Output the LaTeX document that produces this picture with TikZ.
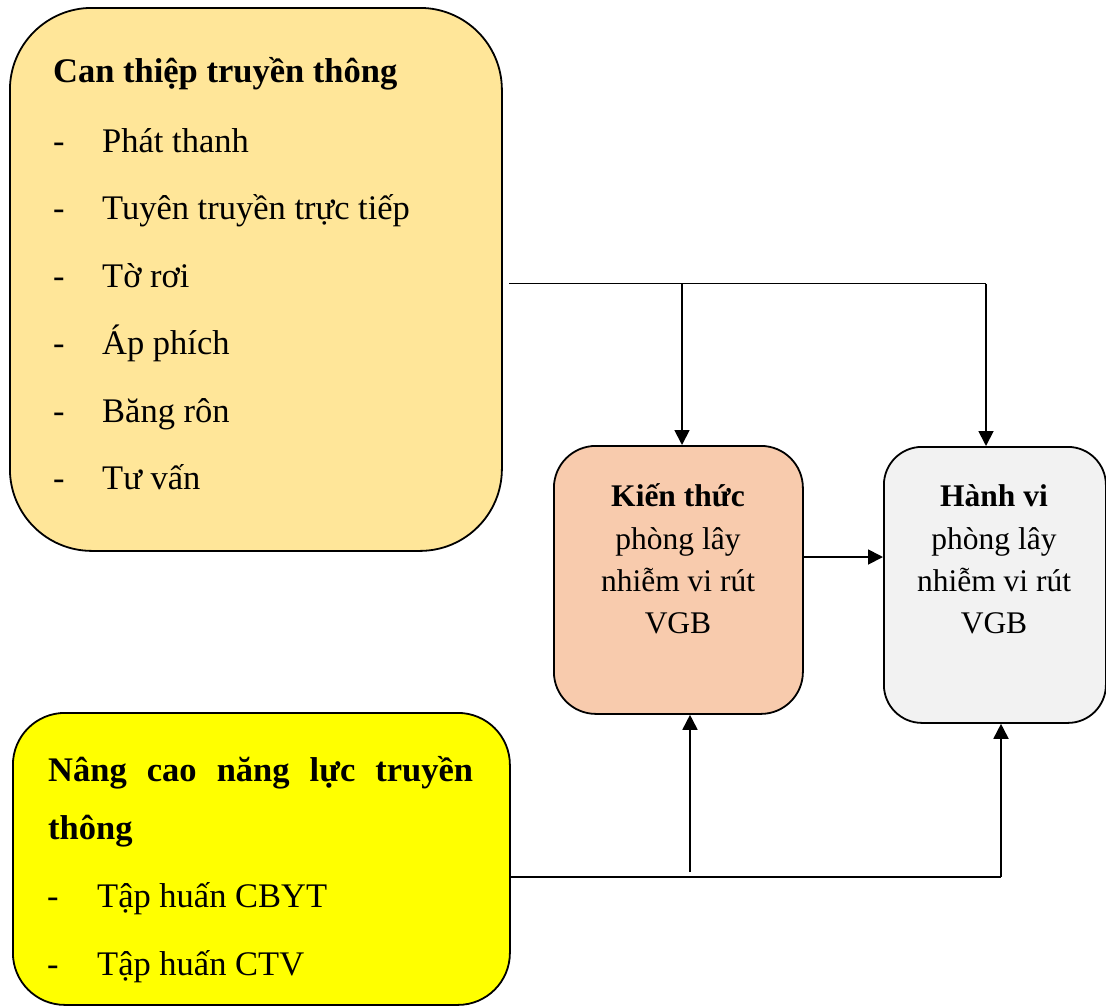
\documentclass[tikz,border=0pt]{standalone}
\usepackage{fontspec}
\setmainfont{Liberation Serif}
\usetikzlibrary{arrows.meta}
\definecolor{fillA}{HTML}{FFE699}
\definecolor{fillK}{HTML}{F8CBAD}
\definecolor{fillH}{HTML}{F2F2F2}
\definecolor{fillN}{HTML}{FFFF00}
\begin{document}
\begin{tikzpicture}[x=1pt,y=-1pt,
  box/.style={draw=black, line width=1.8pt, rounded corners=#1, inner sep=0pt, anchor=north west},
  bigtxt/.style={anchor=base west, inner sep=0pt, font=\fontsize{34.5}{40}\selectfont},
  smalltxt/.style={anchor=base, inner sep=0pt, font=\fontsize{31.5}{38}\selectfont},
  conn/.style={line width=1.8pt},
  arr/.style={line width=1.8pt, -{Triangle[length=15pt,width=15pt]}}]
\useasboundingbox (0,0) rectangle (1106,1005);

% boxes
\node[box=82pt, fill=fillA, minimum width=492pt, minimum height=543pt] (can) at (9,7) {};
\node[box=42pt, fill=fillK, minimum width=249pt, minimum height=268pt] (kt) at (553,445) {};
\node[box=38pt, fill=fillH, minimum width=222pt, minimum height=276pt] (hv) at (883,446) {};
\node[box=52pt, fill=fillN, minimum width=497pt, minimum height=292pt] (nc) at (12,712) {};

% box 1 text
\node[bigtxt] (c0) at (53,82) {\bfseries Can thiệp truyền thông};
\node[bigtxt] (d1) at (53,152) {-};
\node[bigtxt] (c1) at (102,152) {Phát thanh};
\node[bigtxt] (d2) at (53,219.5) {-};
\node[bigtxt] (c2) at (102,219.5) {Tuyên truyền trực tiếp};
\node[bigtxt] (d3) at (53,287) {-};
\node[bigtxt] (c3) at (102,287) {Tờ rơi};
\node[bigtxt] (d4) at (53,354.5) {-};
\node[bigtxt] (c4) at (102,354.5) {Áp phích};
\node[bigtxt] (d5) at (53,422) {-};
\node[bigtxt] (c5) at (102,422) {Băng rôn};
\node[bigtxt] (d6) at (53,489.5) {-};
\node[bigtxt] (c6) at (102,489.5) {Tư vấn};

% knowledge box text
\node[smalltxt] (k0) at (678,506) {\bfseries Kiến thức};
\node[smalltxt] (k1) at (678,549) {phòng lây};
\node[smalltxt] (k2) at (678,591) {nhiễm vi rút};
\node[smalltxt] (k3) at (678,633) {VGB};

% behaviour box text
\node[smalltxt] (h0) at (994,506) {\bfseries Hành vi};
\node[smalltxt] (h1) at (994,549) {phòng lây};
\node[smalltxt] (h2) at (994,591) {nhiễm vi rút};
\node[smalltxt] (h3) at (994,633) {VGB};

% capacity box text
\node[bigtxt] (n0) at (48,781) {\makebox[425pt][l]{\bfseries Nâng\hfill cao\hfill năng\hfill lực\hfill truyền}};
\node[bigtxt] (n1) at (48,839) {\bfseries thông};
\node[bigtxt] (e1) at (47,907) {-};
\node[bigtxt] (n2) at (97,907) {Tập huấn CBYT};
\node[bigtxt] (e2) at (47,975) {-};
\node[bigtxt] (n3) at (97,975) {Tập huấn CTV};

% top connectors
\coordinate (ta) at (509,283.5);
\coordinate (tb) at (682,283.5);
\coordinate (tc) at (986,283.5);
\draw[conn] (ta) -- (tc);
\draw[arr] (tb) -- (tb |- kt.north);
\draw[arr] (tc) -- (tc |- hv.north);

% middle arrow
\draw[arr] (kt.east |- 0,557) -- (hv.west |- 0,557);

% bottom connectors
\coordinate (ba) at (nc.east |- 0,877);
\coordinate (bb) at (690,872);
\coordinate (bc) at (1001,877);
\draw[conn] (ba) -- (bc);
\draw[arr] (bb) -- (bb |- kt.south);
\draw[arr] (bc) -- (bc |- hv.south);
\end{tikzpicture}
\end{document}
